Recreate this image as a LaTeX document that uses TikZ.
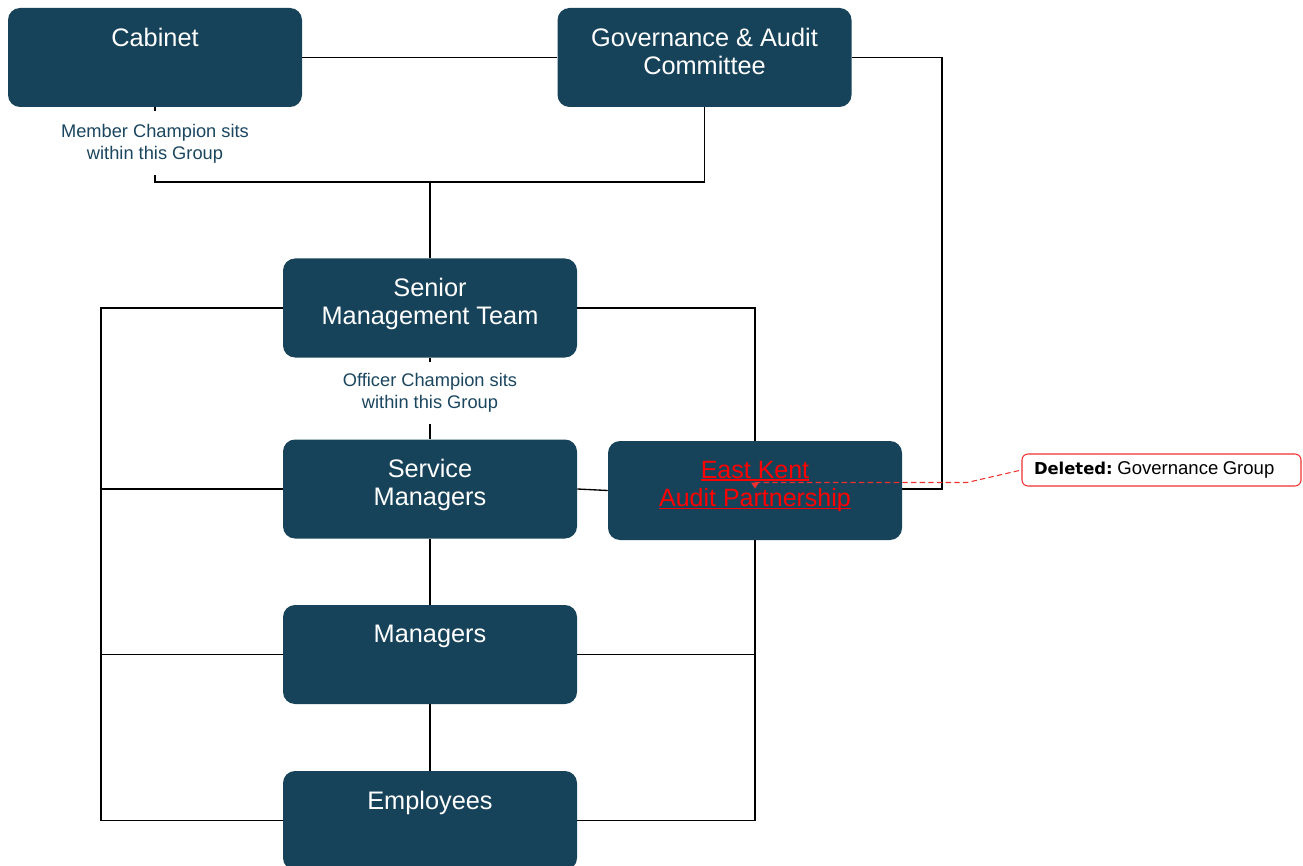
\documentclass[tikz,border=0pt]{standalone}
\usepackage{fontspec}
\setmainfont{Liberation Sans}
\newfontfamily\dejavu{DejaVu Sans}
\newsavebox\myulbox
\newcommand\myuline[1]{\sbox\myulbox{#1}\rlap{\rule[-1.8pt]{\wd\myulbox}{1.1pt}}\usebox\myulbox}
\definecolor{boxblue}{HTML}{17435A}
\definecolor{labelblue}{HTML}{1B4660}
\definecolor{delred}{HTML}{FF0000}
\definecolor{cmtred}{HTML}{F03030}
\tikzset{
  orgbox/.style={draw=none, fill=boxblue, rounded corners=9pt, minimum width=220.5pt, minimum height=74.25pt, inner sep=0pt},
  boxtext/.style={anchor=north, inner sep=0pt, align=center, text=white, font=\fontsize{19}{21}\selectfont},
  redtext/.style={anchor=north, inner sep=0pt, align=center, text=delred, font=\fontsize{18.75}{21.5}\selectfont},
  champ/.style={fill=white, inner sep=0pt, align=center, text=labelblue, minimum width=150pt, font=\fontsize{13.7}{16.5}\selectfont},
  conn/.style={draw=black, line width=1pt},
  cmtbox/.style={draw=cmtred, line width=0.8pt, rounded corners=4.5pt, fill=white, minimum width=209.25pt, minimum height=24pt, inner xsep=9pt, inner ysep=0pt, text width=191.25pt, align=left},
  cmtline/.style={draw=cmtred, line width=0.8pt, dash pattern=on 4pt off 2.5pt}
}
\begin{document}
\begin{tikzpicture}[x=0.75pt, y=-0.75pt]
\useasboundingbox (0,0) rectangle (1303,866);

% boxes
\node[orgbox] (cab)  at (155,57.5) {};
\node[orgbox] (gac)  at (704.5,57.5) {};
\node[orgbox] (smt)  at (430,308) {};
\node[orgbox] (svc)  at (430,489) {};
\node[orgbox] (ekap) at (755,490.5) {};
\node[orgbox] (mgr)  at (430,654.5) {};
\node[orgbox] (emp)  at (430,820.5) {};

% junction coordinates
\coordinate (tb) at (430,182);
\coordinate (gr1) at (942,57.5);
\coordinate (gr2) at (942,489);
\coordinate (lb) at (101,308);
\coordinate (rb) at (755,308);

% connectors
\draw[conn] (cab.east) -- (gac.west);
\draw[conn] (gac.east) -- (gr1) -- (gr2) -- (gr2 -| ekap.east);
\draw[conn] (cab.south) -- (cab.south |- tb) -- (gac.south |- tb) -- (gac.south);
\draw[conn] (tb) -- (smt.north);
\draw[conn] (smt.south) -- (svc.north);
\draw[conn] (svc.south) -- (mgr.north);
\draw[conn] (mgr.south) -- (emp.north);
\draw[conn] (svc.east) -- (ekap.west);
% left bus
\draw[conn] (smt.west) -- (lb) -- (lb |- emp.west) -- (emp.west);
\draw[conn] (svc.west) -- (lb |- svc.west);
\draw[conn] (mgr.west) -- (lb |- mgr.west);
% right bus
\draw[conn] (smt.east) -- (rb) -- (ekap.north);
\draw[conn] (ekap.south) -- (ekap.south |- emp.east) -- (emp.east);
\draw[conn] (mgr.east) -- (rb |- mgr.east);

% champion labels
\node[champ, minimum height=48pt] (cablab) at (155,143.5) {Member Champion sits\\within this Group};
\node[champ, minimum height=46.5pt] (smtlab) at (430,392.5) {Officer Champion sits\\within this Group};

% box texts
\node[boxtext] (cabt)  at ([yshift=-14.8pt]cab.north)  {Cabinet};
\node[boxtext] (gact)  at ([yshift=-14.8pt]gac.north)  {Governance \& Audit\\Committee};
\node[boxtext] (smtt)  at ([yshift=-14.8pt]smt.north)  {Senior\\Management Team};
\node[boxtext] (svct)  at ([yshift=-14.8pt]svc.north)  {Service\\Managers};
\node[redtext] (ekapt) at ([yshift=-15pt]ekap.north) {\myuline{East Kent}\\\myuline{Audit Partnership}};
\node[boxtext] (mgrt)  at ([yshift=-14.8pt]mgr.north)  {Managers};
\node[boxtext] (empt)  at ([yshift=-14.8pt]emp.north)  {Employees};

% comment
\node[cmtbox] (cmt) at (1161.5,470) {{\dejavu\bfseries\fontsize{12.3}{14}\selectfont Deleted:}\hspace{3.5pt}{\fontsize{13.9}{15}\selectfont Governance Group}};
\coordinate (mk) at (755,482.5);
\coordinate (bend) at (967,482.5);
\draw[cmtline] (mk) -- (bend) -- (cmt.west);
\fill[cmtred] ([xshift=-3pt]mk) -- ([xshift=3pt]mk) -- ([yshift=-4.5pt]mk) -- cycle;
\end{tikzpicture}
\end{document}
